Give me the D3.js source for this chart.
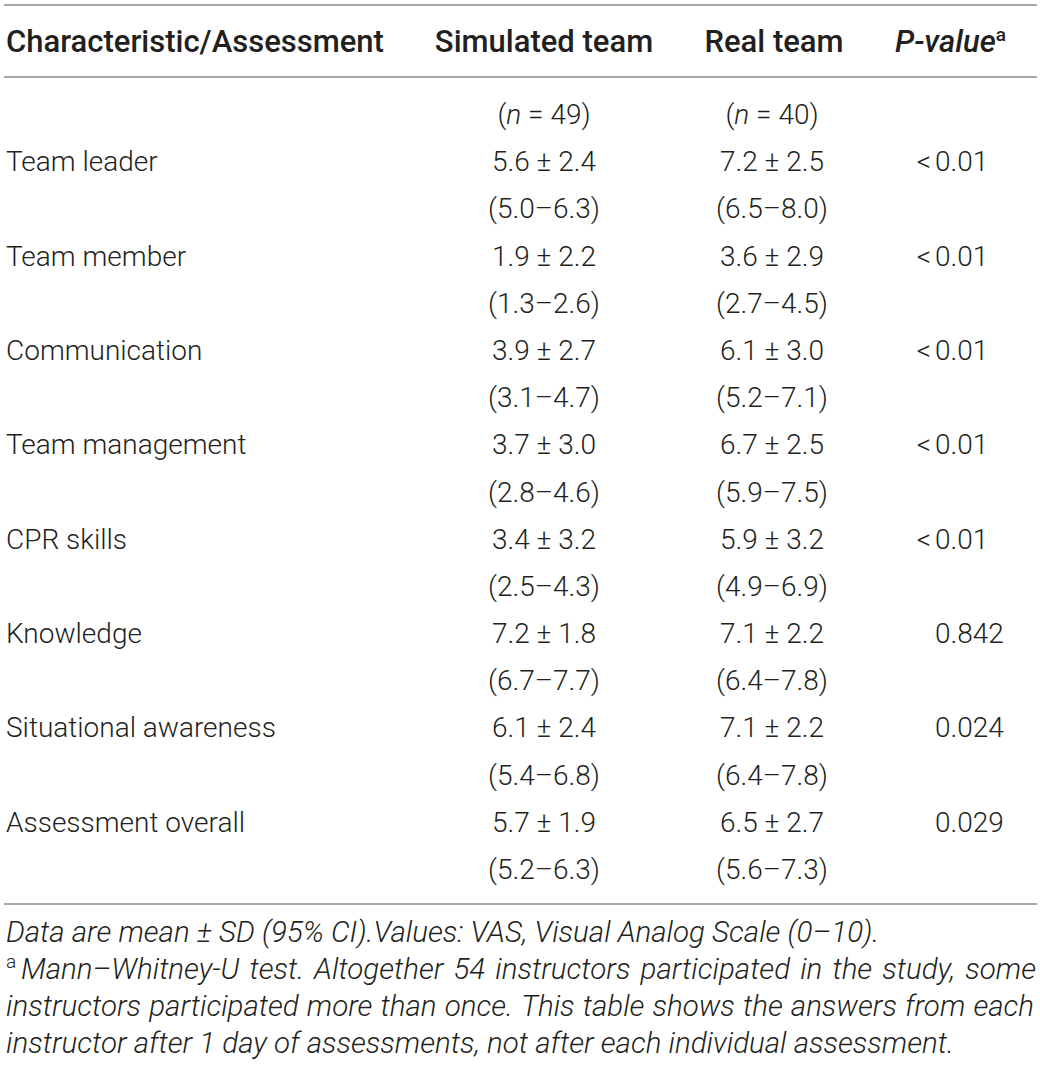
<!DOCTYPE html>
<html>
<head>
<meta charset="utf-8">
<script src="https://cdn.jsdelivr.net/npm/d3@7"></script>
<style>
  html, body { margin: 0; padding: 0; background: #fff; }
  text { font-family: Roboto, "Liberation Sans", sans-serif; fill: #231f20; }
  .body { font-size: 28px; font-weight: 300; }
  .head { font-size: 31px; font-weight: 500; }
  .note { font-size: 29.5px; font-weight: 300; font-style: italic; }
</style>
</head>
<body>
<script>
// table values
const headers = ['Characteristic/Assessment', 'Simulated team', 'Real team', 'P-value'];
const groupN = [49, 40];
const categories = ['Team leader', 'Team member', 'Communication', 'Team management',
  'CPR skills', 'Knowledge', 'Situational awareness', 'Assessment overall'];
const simMean = [5.6, 1.9, 3.9, 3.7, 3.4, 7.2, 6.1, 5.7];
const simSD   = [2.4, 2.2, 2.7, 3.0, 3.2, 1.8, 2.4, 1.9];
const simLow  = [5.0, 1.3, 3.1, 2.8, 2.5, 6.7, 5.4, 5.2];
const simHigh = [6.3, 2.6, 4.7, 4.6, 4.3, 7.7, 6.8, 6.3];
const realMean = [7.2, 3.6, 6.1, 6.7, 5.9, 7.1, 7.1, 6.5];
const realSD   = [2.5, 2.9, 3.0, 2.5, 3.2, 2.2, 2.2, 2.7];
const realLow  = [6.5, 2.7, 5.2, 5.9, 4.9, 6.4, 6.4, 5.6];
const realHigh = [8.0, 4.5, 7.1, 7.5, 6.9, 7.8, 7.8, 7.3];
const pValues = ['<0.01', '<0.01', '<0.01', '<0.01', '<0.01', '0.842', '0.024', '0.029'];
const notes = [
  'Data are mean \u00b1 SD (95% CI).Values: VAS, Visual Analog Scale (0\u201310).',
  'Mann\u2013Whitney-U test. Altogether 54 instructors participated in the study, some',
  'instructors participated more than once. This table shows the answers from each',
  'instructor after 1 day of assessments, not after each individual assessment.'
];

const W = 1040, H = 1066;
const svg = d3.select('body').append('svg')
  .attr('width', W)
  .attr('height', H);

const f1 = d => d.toFixed(1);

// row positions (line 0 = n row, then two lines per category)
const y = d3.scaleLinear().domain([0, 16]).range([124, 879]);
const x = d3.scaleOrdinal()
  .domain(['label', 'sim', 'real', 'p'])
  .range([6, 544, 772, 935]);

// rules
svg.selectAll('line.rule')
  .data([5, 77, 904])
  .enter()
  .append('line')
  .classed('rule', true)
  .attr('x1', 4)
  .attr('x2', 1037)
  .attr('y1', d => d)
  .attr('y2', d => d)
  .attr('stroke', '#a6a6a6')
  .attr('stroke-width', 2);

// header
svg.append('text').classed('head', true)
  .attr('x', x('label')).attr('y', 52)
  .text(headers[0]);
svg.append('text').classed('head', true)
  .attr('x', x('sim')).attr('y', 52).attr('text-anchor', 'middle')
  .text(headers[1]);
svg.append('text').classed('head', true)
  .attr('x', x('real') + 2).attr('y', 52).attr('text-anchor', 'middle')
  .text(headers[2]);
const ph = svg.append('text').classed('head', true)
  .attr('x', 1006).attr('y', 52).attr('text-anchor', 'end');
ph.append('tspan').style('font-style', 'italic').text(headers[3]);
ph.append('tspan').attr('font-size', 19).attr('dy', -11).text('a');

// n row
['sim', 'real'].forEach((k, i) => {
  const t = svg.append('text').classed('body', true)
    .attr('x', x(k)).attr('y', y(0)).attr('text-anchor', 'middle');
  t.append('tspan').text('(');
  t.append('tspan').style('font-style', 'italic').text('n');
  t.append('tspan').text(' = ' + groupN[i] + ')');
});

// category rows
const rows = svg.selectAll('g.row')
  .data(categories)
  .enter()
  .append('g')
  .classed('row', true);

rows.append('text').classed('body', true)
  .attr('x', x('label'))
  .attr('y', (d, i) => y(1 + i * 2))
  .text(d => d);

rows.append('text').classed('body', true)
  .attr('x', x('sim')).attr('text-anchor', 'middle')
  .attr('y', (d, i) => y(1 + i * 2))
  .text((d, i) => f1(simMean[i]) + ' \u00b1 ' + f1(simSD[i]));
rows.append('text').classed('body', true)
  .attr('x', x('sim')).attr('text-anchor', 'middle')
  .attr('y', (d, i) => y(2 + i * 2))
  .text((d, i) => '(' + f1(simLow[i]) + '\u2013' + f1(simHigh[i]) + ')');

rows.append('text').classed('body', true)
  .attr('x', x('real')).attr('text-anchor', 'middle')
  .attr('y', (d, i) => y(1 + i * 2))
  .text((d, i) => f1(realMean[i]) + ' \u00b1 ' + f1(realSD[i]));
rows.append('text').classed('body', true)
  .attr('x', x('real')).attr('text-anchor', 'middle')
  .attr('y', (d, i) => y(2 + i * 2))
  .text((d, i) => '(' + f1(realLow[i]) + '\u2013' + f1(realHigh[i]) + ')');

// p values: "<" hangs left of the number
rows.append('text').classed('body', true)
  .attr('x', x('p'))
  .attr('y', (d, i) => y(1 + i * 2))
  .text((d, i) => pValues[i].replace('<', ''));
rows.filter((d, i) => pValues[i][0] === '<')
  .append('text').classed('body', true)
  .attr('x', x('p') - 4).attr('text-anchor', 'end')
  .attr('y', d => y(1 + categories.indexOf(d) * 2))
  .text('<');

// footnotes
const ny = d3.scaleLinear().domain([0, 3]).range([942, 1053]);

function justify(str, x0, x1, yy) {
  const words = str.split(' ');
  const g = svg.append('text').classed('note', true).attr('y', yy);
  const spans = words.map(w => g.append('tspan').text(w));
  const widths = spans.map(s => s.node().getComputedTextLength());
  const gap = (x1 - x0 - d3.sum(widths)) / (words.length - 1);
  let cx = x0;
  spans.forEach((s, i) => { s.attr('x', cx); cx += widths[i] + gap; });
}

svg.append('text').classed('note', true)
  .attr('x', 6).attr('y', ny(0)).text(notes[0]);
svg.append('text')
  .attr('x', 6).attr('y', ny(1) - 11)
  .attr('font-size', 19).attr('font-weight', 300)
  .text('a');
justify(notes[1], 21, 1036, ny(1));
justify(notes[2], 6, 1034, ny(2));
svg.append('text').classed('note', true)
  .attr('x', 6).attr('y', ny(3)).text(notes[3]);
</script>
</body>
</html>
